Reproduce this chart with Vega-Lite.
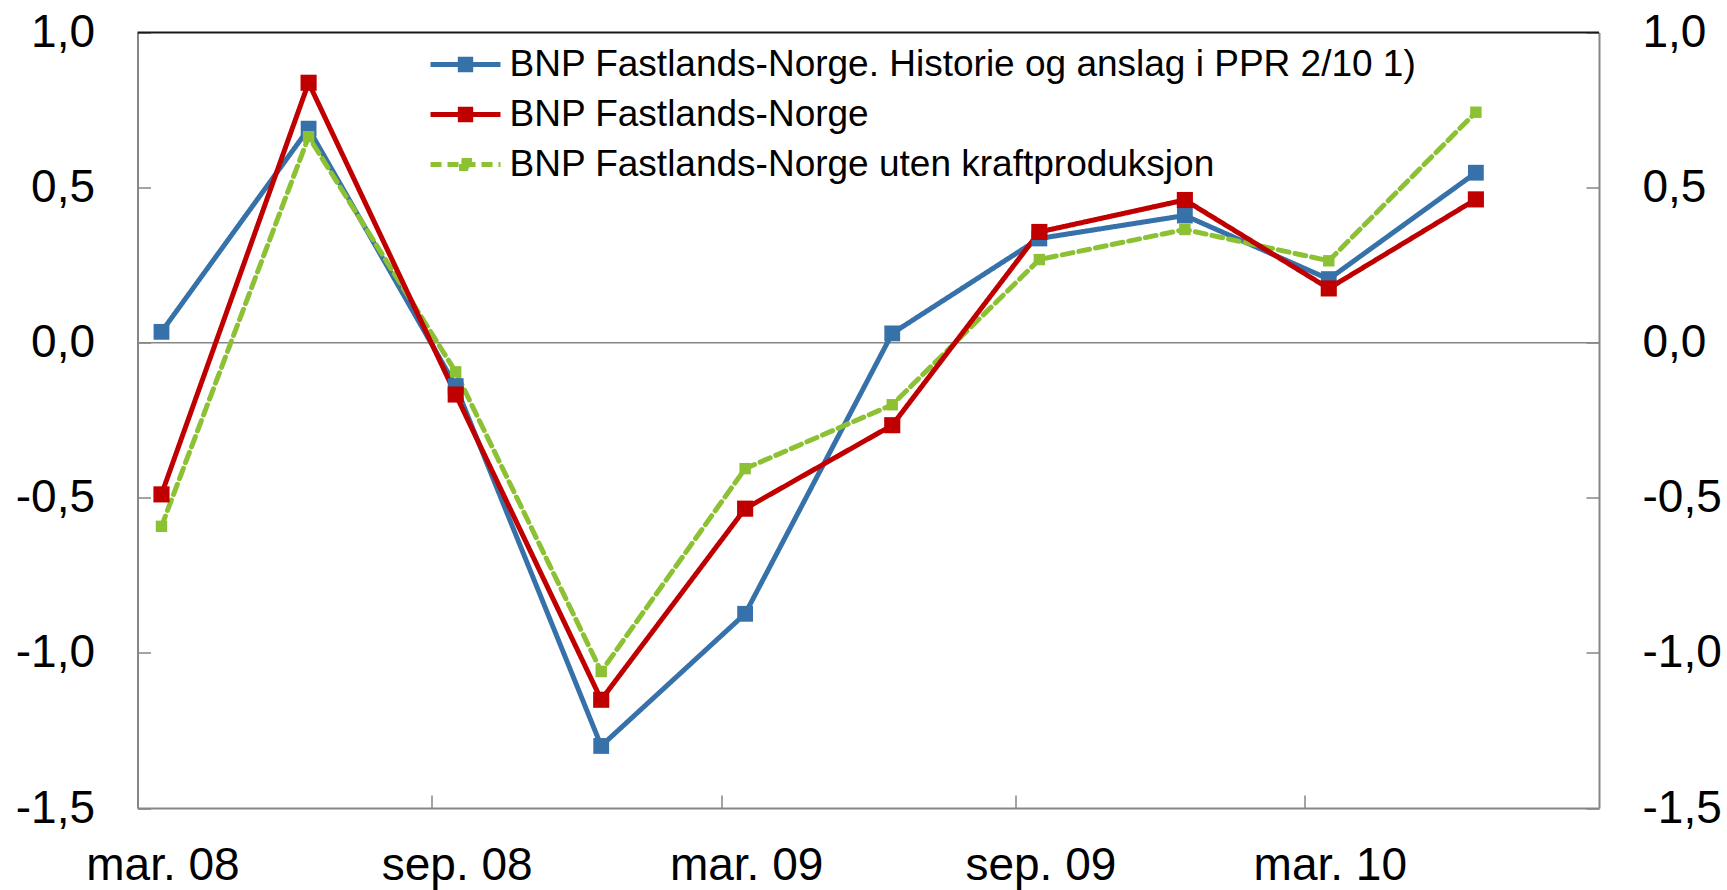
{
  "$schema": "https://vega.github.io/schema/vega-lite/v6.json",
  "width": 1461.5,
  "height": 775.5,
  "autosize": {"type": "none"},
  "padding": {"left": 137.5, "top": 32.5, "right": 128, "bottom": 82},
  "background": "white",
  "config": {"view": {"stroke": null}, "font": "Liberation Sans"},
  "data": {
    "values": [
      {"date": "2008-03-16T00:00", "series": "BNP Fastlands-Norge. Historie og anslag i PPR 2/10 1)", "value": 0.035},
      {"date": "2008-06-16T00:00", "series": "BNP Fastlands-Norge. Historie og anslag i PPR 2/10 1)", "value": 0.69},
      {"date": "2008-09-16T00:00", "series": "BNP Fastlands-Norge. Historie og anslag i PPR 2/10 1)", "value": -0.14},
      {"date": "2008-12-16T00:00", "series": "BNP Fastlands-Norge. Historie og anslag i PPR 2/10 1)", "value": -1.3},
      {"date": "2009-03-16T00:00", "series": "BNP Fastlands-Norge. Historie og anslag i PPR 2/10 1)", "value": -0.874},
      {"date": "2009-06-16T00:00", "series": "BNP Fastlands-Norge. Historie og anslag i PPR 2/10 1)", "value": 0.03},
      {"date": "2009-09-16T00:00", "series": "BNP Fastlands-Norge. Historie og anslag i PPR 2/10 1)", "value": 0.336},
      {"date": "2009-12-16T00:00", "series": "BNP Fastlands-Norge. Historie og anslag i PPR 2/10 1)", "value": 0.41},
      {"date": "2010-03-16T00:00", "series": "BNP Fastlands-Norge. Historie og anslag i PPR 2/10 1)", "value": 0.205},
      {"date": "2010-06-16T00:00", "series": "BNP Fastlands-Norge. Historie og anslag i PPR 2/10 1)", "value": 0.548},
      {"date": "2008-03-16T00:00", "series": "BNP Fastlands-Norge uten kraftproduksjon", "value": -0.592},
      {"date": "2008-06-16T00:00", "series": "BNP Fastlands-Norge uten kraftproduksjon", "value": 0.664},
      {"date": "2008-09-16T00:00", "series": "BNP Fastlands-Norge uten kraftproduksjon", "value": -0.094},
      {"date": "2008-12-16T00:00", "series": "BNP Fastlands-Norge uten kraftproduksjon", "value": -1.06},
      {"date": "2009-03-16T00:00", "series": "BNP Fastlands-Norge uten kraftproduksjon", "value": -0.406},
      {"date": "2009-06-16T00:00", "series": "BNP Fastlands-Norge uten kraftproduksjon", "value": -0.2},
      {"date": "2009-09-16T00:00", "series": "BNP Fastlands-Norge uten kraftproduksjon", "value": 0.268},
      {"date": "2009-12-16T00:00", "series": "BNP Fastlands-Norge uten kraftproduksjon", "value": 0.365},
      {"date": "2010-03-16T00:00", "series": "BNP Fastlands-Norge uten kraftproduksjon", "value": 0.264},
      {"date": "2010-06-16T00:00", "series": "BNP Fastlands-Norge uten kraftproduksjon", "value": 0.743},
      {"date": "2008-03-16T00:00", "series": "BNP Fastlands-Norge", "value": -0.489},
      {"date": "2008-06-16T00:00", "series": "BNP Fastlands-Norge", "value": 0.838},
      {"date": "2008-09-16T00:00", "series": "BNP Fastlands-Norge", "value": -0.167},
      {"date": "2008-12-16T00:00", "series": "BNP Fastlands-Norge", "value": -1.151},
      {"date": "2009-03-16T00:00", "series": "BNP Fastlands-Norge", "value": -0.535},
      {"date": "2009-06-16T00:00", "series": "BNP Fastlands-Norge", "value": -0.266},
      {"date": "2009-09-16T00:00", "series": "BNP Fastlands-Norge", "value": 0.357},
      {"date": "2009-12-16T00:00", "series": "BNP Fastlands-Norge", "value": 0.46},
      {"date": "2010-03-16T00:00", "series": "BNP Fastlands-Norge", "value": 0.175},
      {"date": "2010-06-16T00:00", "series": "BNP Fastlands-Norge", "value": 0.462}
    ]
  },
  "layer": [
    {
      "data": {"values": [{}]},
      "mark": {"type": "rule", "color": "#868686", "strokeWidth": 1.5},
      "encoding": {"y": {"datum": 0, "type": "quantitative", "axis": null}}
    },
    {
      "data": {"values": [{}]},
      "mark": {"type": "rule", "color": "#1a1a1a", "strokeWidth": 2},
      "encoding": {"y": {"datum": 1, "type": "quantitative", "axis": null}}
    },
    {
      "mark": {"type": "line", "strokeCap": "round", "strokeJoin": "round"},
      "encoding": {
        "x": {
          "field": "date", "type": "temporal",
          "scale": {"domain": [{"year": 2008, "month": 3, "date": 1}, {"year": 2010, "month": 9, "date": 1}]},
          "axis": {
            "title": null,
            "values": [{"year": 2008, "month": 3, "date": 1}, {"year": 2008, "month": 9, "date": 1}, {"year": 2009, "month": 3, "date": 1}, {"year": 2009, "month": 9, "date": 1}, {"year": 2010, "month": 3, "date": 1}],
            "labelExpr": "(month(datum.value) == 2 ? 'mar. ' : 'sep. ') + timeFormat(datum.value, '%y')",
            "labelOffset": 25,
            "labelFontSize": 46,
            "labelFont": "Liberation Sans",
            "labelColor": "black",
            "labelPadding": 48,
            "labelFlush": false,
            "labelOverlap": false,
            "labelBound": false,
            "grid": false,
            "domainColor": "#868686",
            "domainWidth": 2,
            "tickColor": "#868686",
            "tickWidth": 1.5,
            "tickSize": -13
          }
        },
        "y": {
          "field": "value", "type": "quantitative",
          "scale": {"domain": [-1.5, 1], "nice": false, "zero": false},
          "axis": {
            "orient": "left",
            "title": null,
            "values": [-1.5, -1, -0.5, 0, 0.5, 1],
            "labelExpr": "(datum.value < 0 ? '-' : '') + replace(format(abs(datum.value), '.1f'), '.', ',')",
            "labelFontSize": 46,
            "labelFont": "Liberation Sans",
            "labelColor": "black",
            "labelPadding": 56,
            "grid": false,
            "domainColor": "#868686",
            "domainWidth": 2,
            "tickColor": "#868686",
            "tickWidth": 1.5,
            "tickSize": -13
          }
        },
        "color": {
          "field": "series", "type": "nominal",
          "scale": {
            "domain": ["BNP Fastlands-Norge. Historie og anslag i PPR 2/10 1)", "BNP Fastlands-Norge", "BNP Fastlands-Norge uten kraftproduksjon"],
            "range": ["#3771A9", "#C00000", "#8DC134"]
          },
          "legend": {
            "orient": "none",
            "legendX": 296,
            "legendY": 0,
            "title": null,
            "padding": 0,
            "labelFontSize": 37,
            "labelFont": "Liberation Sans",
            "labelColor": "black",
            "labelLimit": 0,
            "labelOffset": 12,
            "symbolSize": 3400,
            "symbolType": "M-1.2,0H1.2M-0.178,-0.178H0.178V0.178H-0.178Z",
            "symbolStrokeWidth": 5,
            "rowPadding": 0,
            "encode": {
              "symbols": {
                "update": {
                  "size": {"value": 3400},
                  "fill": {"scale": "color", "field": "value"},
                  "stroke": {"scale": "color", "field": "value"},
                  "opacity": {"value": 1},
                  "strokeDash": {"signal": "datum.value === 'BNP Fastlands-Norge uten kraftproduksjon' ? [11, 6] : [1, 0]"},
                  "strokeWidth": {"signal": "datum.value === 'BNP Fastlands-Norge uten kraftproduksjon' ? 3.5 : 5"},
                  "shape": {"signal": "datum.value === 'BNP Fastlands-Norge uten kraftproduksjon' ? 'M-1.2,0H1.2M-0.135,-0.135H0.135V0.135H-0.135Z' : 'M-1.2,0H1.2M-0.178,-0.178H0.178V0.178H-0.178Z'"}
                }
              }
            }
          }
        },
        "strokeDash": {
          "field": "series", "type": "nominal",
          "scale": {
            "domain": ["BNP Fastlands-Norge. Historie og anslag i PPR 2/10 1)", "BNP Fastlands-Norge", "BNP Fastlands-Norge uten kraftproduksjon"],
            "range": [[1, 0], [1, 0], [11, 6]]
          },
          "legend": null
        },
        "strokeWidth": {
          "field": "series", "type": "nominal",
          "scale": {
            "domain": ["BNP Fastlands-Norge. Historie og anslag i PPR 2/10 1)", "BNP Fastlands-Norge", "BNP Fastlands-Norge uten kraftproduksjon"],
            "range": [5, 5, 3.5]
          },
          "legend": null
        }
      }
    },
    {
      "transform": [{"filter": "datum.series === 'BNP Fastlands-Norge. Historie og anslag i PPR 2/10 1)'"}],
      "mark": {"type": "point", "shape": "square", "filled": true, "opacity": 1, "size": 250},
      "encoding": {
        "x": {"field": "date", "type": "temporal"},
        "y": {"field": "value", "type": "quantitative", "axis": null},
        "color": {"field": "series", "type": "nominal"}
      }
    },
    {
      "transform": [{"filter": "datum.series === 'BNP Fastlands-Norge uten kraftproduksjon'"}],
      "mark": {"type": "point", "shape": "square", "filled": true, "opacity": 1, "size": 130},
      "encoding": {
        "x": {"field": "date", "type": "temporal"},
        "y": {"field": "value", "type": "quantitative", "axis": null},
        "color": {"field": "series", "type": "nominal"}
      }
    },
    {
      "transform": [{"filter": "datum.series === 'BNP Fastlands-Norge'"}],
      "mark": {"type": "point", "shape": "square", "filled": true, "opacity": 1, "size": 260},
      "encoding": {
        "x": {"field": "date", "type": "temporal"},
        "y": {
          "field": "value", "type": "quantitative",
          "axis": {
            "orient": "right",
            "title": null,
            "values": [-1.5, -1, -0.5, 0, 0.5, 1],
            "labelExpr": "(datum.value < 0 ? '-' : '') + replace(format(abs(datum.value), '.1f'), '.', ',')",
            "labelFontSize": 46,
            "labelFont": "Liberation Sans",
            "labelColor": "black",
            "labelPadding": 56,
            "grid": false,
            "domainColor": "#868686",
            "domainWidth": 2,
            "tickColor": "#868686",
            "tickWidth": 1.5,
            "tickSize": -13
          }
        },
        "color": {"field": "series", "type": "nominal"}
      }
    }
  ],
  "resolve": {"axis": {"y": "independent"}}
}
